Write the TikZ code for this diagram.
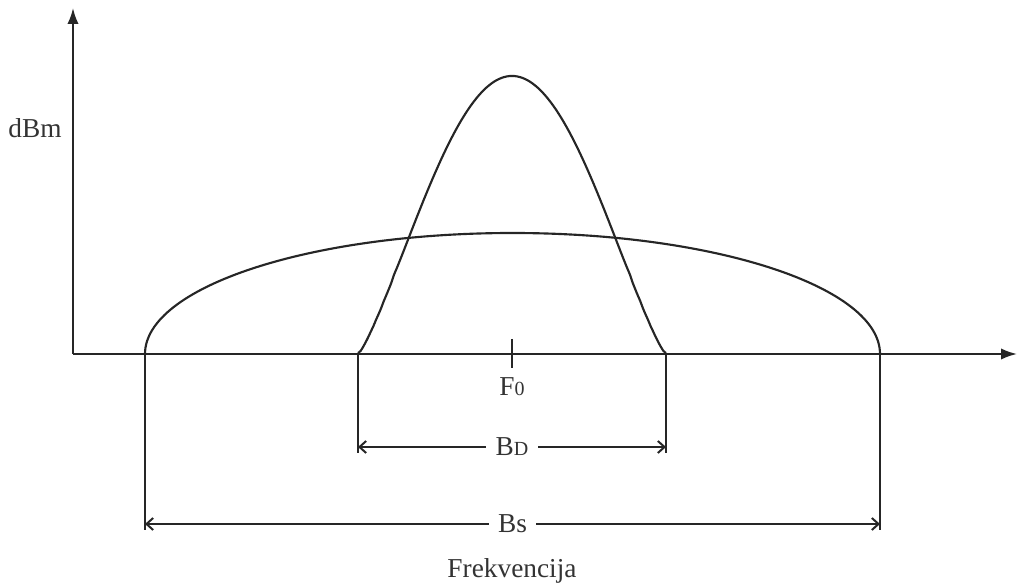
\documentclass[tikz,border=0pt]{standalone}
\usepackage{fontspec}
\setmainfont{Liberation Serif}
\usetikzlibrary{arrows.meta}
\begin{document}
\begin{tikzpicture}[x=0.75pt,y=-0.75pt,
  ln/.style={line width=1.6pt, black!85},
  axisline/.style={ln,-{Latex[length=12pt,width=8.5pt]}},
  dimline/.style={line width=1.5pt, black!85,
    {Straight Barb[length=5pt,width=9pt]}-{Straight Barb[length=5pt,width=9pt]}},
  lbl/.style={font=\fontsize{20.5}{24}\selectfont, inner sep=3pt, text=black!80}]
\useasboundingbox (0,0) rectangle (1017,584);
% axes
\coordinate (O) at (73,354);
\coordinate (ytop) at (73,8);
\coordinate (xend) at (1017,354);
\draw[axisline] (O) -- (ytop);
\draw[axisline] (O) -- (xend);
% tick at F0
\coordinate (tickT) at (512,339);
\coordinate (tickB) at (512,368);
\draw[ln] (tickT) -- (tickB);
% wide curve
\coordinate (wL) at (145,354);
\coordinate (wR) at (880,354);
\draw[ln] (wL) arc[start angle=180, end angle=360, x radius=367.5, y radius=121];
% narrow curve
\coordinate (nL) at (358,354);
\coordinate (nR) at (666,354);
\draw[ln] plot[domain=-154:154, samples=121, variable=\u, smooth]
  ({512+\u}, {354-278*exp(0.62*ln(max((1+cos(\u*1.168831))/2,0.0001)))});
% dimension verticals
\coordinate (nLb) at (358,453);
\coordinate (nRb) at (666,453);
\coordinate (wLb) at (145,530);
\coordinate (wRb) at (880,530);
\draw[ln, line width=2pt] (nL) -- (nLb);
\draw[ln] (nR) -- (nRb);
\draw[ln] (wL) -- (wLb);
\draw[ln] (wR) -- (wRb);
% dimension lines
\coordinate (bdL) at (358,447);
\coordinate (bdR) at (666,447);
\coordinate (bsL) at (145,524);
\coordinate (bsR) at (880,524);
\draw[dimline] (bdL) -- node[lbl, fill=white, inner xsep=7pt] (BD) {B{\fontsize{15}{17}\selectfont D}} (bdR);
\draw[dimline] (bsL) -- node[lbl, fill=white, inner xsep=7pt] (BS) {Bs} (bsR);
% labels
\node[lbl, anchor=base] (F0) at (512,396) {F{\fontsize{15}{17}\selectfont 0}};
\node[lbl, anchor=base] (dBm) at (35,138) {dBm};
\node[lbl, anchor=base] (frek) at (512,577) {Frekvencija};
\end{tikzpicture}
\end{document}
